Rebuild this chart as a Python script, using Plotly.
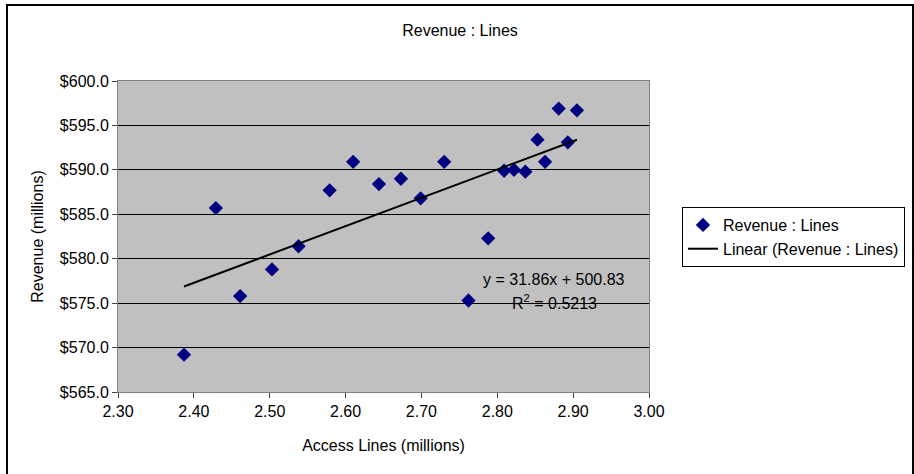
import plotly.graph_objects as go

# Data
access_lines = [2.387, 2.429, 2.461, 2.503, 2.538, 2.579, 2.610, 2.644, 2.673, 2.699,
                2.730, 2.762, 2.788, 2.809, 2.822, 2.837, 2.853, 2.863, 2.881, 2.893, 2.905]
revenue = [569.2, 585.7, 575.8, 578.8, 581.4, 587.7, 590.9, 588.4, 589.0, 586.8,
           590.9, 575.3, 582.3, 589.9, 590.0, 589.8, 593.4, 590.9, 596.9, 593.1, 596.7]
trend_slope = 31.86
trend_intercept = 500.83
r_squared = 0.5213

x_ticks = [2.30, 2.40, 2.50, 2.60, 2.70, 2.80, 2.90, 3.00]
y_ticks = [565, 570, 575, 580, 585, 590, 595, 600]

W, H = 914, 474
L, R, T, B = 118, W - 649, 81, H - 392
pw, ph = W - L - R, H - T - B

FONT = "Liberation Sans, Arial, sans-serif"
FS = 16

x0t, x1t = min(access_lines), max(access_lines)
trend_x = [x0t, x1t]
trend_y = [trend_slope * v + trend_intercept for v in trend_x]

fig = go.Figure()
fig.add_trace(go.Scatter(
    x=access_lines, y=revenue, mode="markers", name="Revenue : Lines",
    marker=dict(symbol="diamond", size=11, color="#000080", line=dict(width=0)),
))
fig.add_trace(go.Scatter(
    x=trend_x, y=trend_y, mode="lines", name="Linear (Revenue : Lines)",
    line=dict(color="black", width=2),
))

def px2paper_x(p):
    return (p - L) / pw

def px2paper_y(p):
    return 1 - (p - T) / ph

fig.update_layout(
    width=W, height=H,
    margin=dict(l=L, r=R, t=T, b=B, autoexpand=False),
    paper_bgcolor="white",
    plot_bgcolor="#C0C0C0",
    font=dict(family=FONT, size=FS, color="black"),
    title=dict(text="Revenue : Lines", x=460 / W, xanchor="center",
               y=1 - 30 / H, yanchor="middle", font=dict(family=FONT, size=FS)),
    xaxis=dict(
        range=[2.30, 3.00], tickvals=x_ticks,
        ticktext=[f"{v:.2f}" for v in x_ticks],
        tickfont=dict(family=FONT, size=FS),
        showgrid=False, zeroline=False,
        showline=True, linecolor="#808080", linewidth=1, mirror=True,
        ticks="outside", ticklen=5, tickcolor="#404040",
        title=dict(text="Access Lines (millions)", standoff=20,
                   font=dict(family=FONT, size=FS)),
    ),
    yaxis=dict(
        range=[565, 600], tickvals=y_ticks,
        ticktext=[f"${v:.1f}" for v in y_ticks],
        tickfont=dict(family=FONT, size=FS),
        showgrid=True, gridcolor="black", gridwidth=1, zeroline=False,
        showline=True, linecolor="#808080", linewidth=1, mirror=True,
        ticks="outside", ticklen=5, tickcolor="#404040",
        title=dict(text="Revenue (millions)", standoff=12,
                   font=dict(family=FONT, size=FS)),
    ),
    legend=dict(
        x=px2paper_x(682), xanchor="left",
        y=px2paper_y(207), yanchor="top",
        bgcolor="white", bordercolor="black", borderwidth=1,
        font=dict(family=FONT, size=FS), tracegroupgap=0, itemwidth=30,
    ),
    showlegend=True,
    shapes=[dict(
        type="rect", xref="paper", yref="paper",
        x0=px2paper_x(7), x1=px2paper_x(913),
        y0=px2paper_y(480), y1=px2paper_y(5),
        line=dict(color="black", width=2), fillcolor="rgba(0,0,0,0)",
        layer="above",
    )],
    annotations=[
        dict(xref="paper", yref="paper",
             x=px2paper_x(554), y=px2paper_y(279),
             xanchor="center", yanchor="middle", showarrow=False,
             text=f"y = {trend_slope:.2f}x + {trend_intercept:.2f}",
             font=dict(family=FONT, size=FS)),
        dict(xref="paper", yref="paper",
             x=px2paper_x(554), y=px2paper_y(302),
             xanchor="center", yanchor="middle", showarrow=False,
             text=f"R<sup>2</sup> = {r_squared:.4f}",
             font=dict(family=FONT, size=FS)),
    ],
)

fig.write_html("out.html")
